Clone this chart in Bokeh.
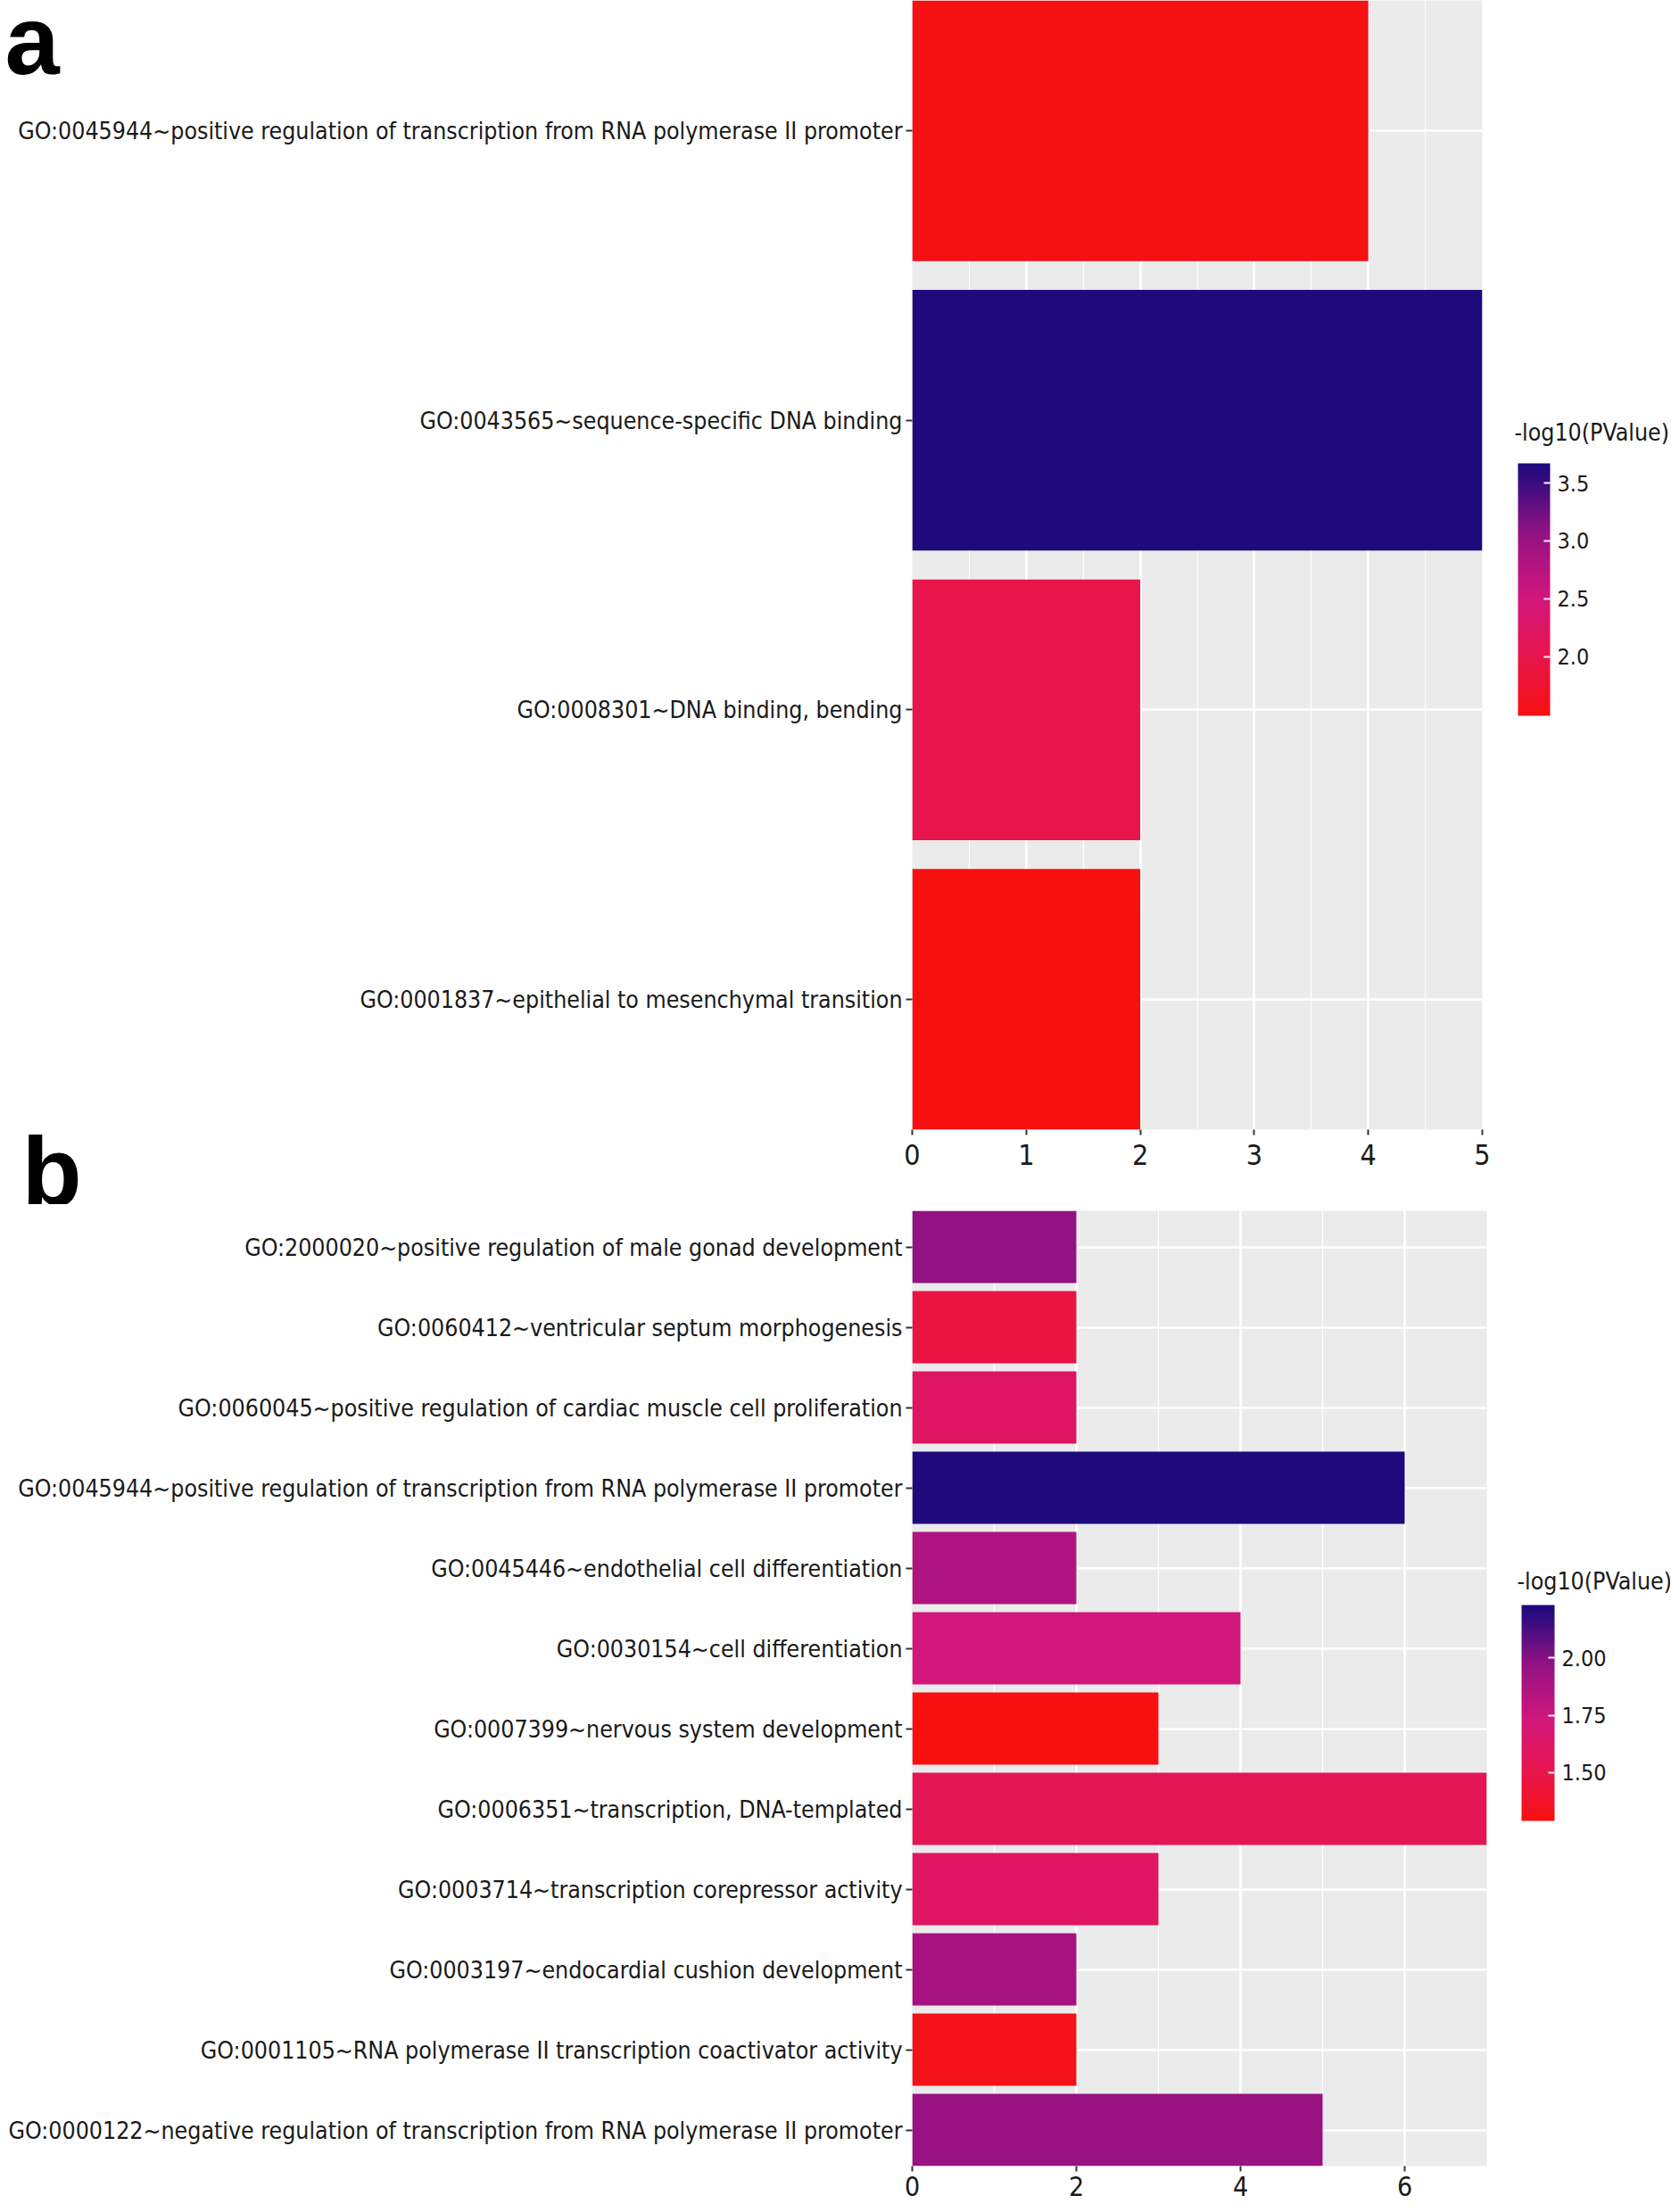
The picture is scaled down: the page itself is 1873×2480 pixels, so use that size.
import numpy as np
from bokeh.plotting import figure
from bokeh.models import (Range1d, FixedTicker, SingleIntervalTicker, LinearColorMapper,
                          ColorBar, Label, PrintfTickFormatter, ColumnDataSource)
from bokeh.layouts import column
from bokeh.embed import file_html
from bokeh.resources import INLINE

FONT = "DejaVu Sans Condensed, Liberation Sans"

# ---------------- data: panel a (top to bottom) ----------------
a_terms = [
    "GO:0045944~positive regulation of transcription from RNA polymerase II promoter",
    "GO:0043565~sequence-specific DNA binding",
    "GO:0008301~DNA binding, bending",
    "GO:0001837~epithelial to mesenchymal transition",
]
a_count = [4, 5, 2, 2]
a_logp = [1.52, 3.67, 1.99, 1.49]
a_cb_ticks = [2.0, 2.5, 3.0, 3.5]

# ---------------- data: panel b (top to bottom) ----------------
b_terms = [
    "GO:2000020~positive regulation of male gonad development",
    "GO:0060412~ventricular septum morphogenesis",
    "GO:0060045~positive regulation of cardiac muscle cell proliferation",
    "GO:0045944~positive regulation of transcription from RNA polymerase II promoter",
    "GO:0045446~endothelial cell differentiation",
    "GO:0030154~cell differentiation",
    "GO:0007399~nervous system development",
    "GO:0006351~transcription, DNA-templated",
    "GO:0003714~transcription corepressor activity",
    "GO:0003197~endocardial cushion development",
    "GO:0001105~RNA polymerase II transcription coactivator activity",
    "GO:0000122~negative regulation of transcription from RNA polymerase II promoter",
]
b_count = [2, 2, 2, 6, 2, 4, 3, 7, 3, 2, 2, 5]
b_logp = [1.97, 1.47, 1.60, 2.23, 1.86, 1.73, 1.29, 1.55, 1.60, 1.90, 1.32, 1.95]
b_cb_ticks = [1.50, 1.75, 2.00]

# colour gradient (low -> high)
grad_pos = [0.0, 0.22, 0.47, 0.72, 0.92, 1.0]
grad_col = ["#F61010", "#E8154A", "#D2167D", "#951282", "#3B0C80", "#1E0A7B"]


def make_palette(pos, cols, n=256):
    rgb = np.array([[int(c[i:i + 2], 16) for i in (1, 3, 5)] for c in cols], dtype=float)
    t = np.linspace(0, 1, n)
    out = []
    for tt in t:
        r = np.interp(tt, pos, rgb[:, 0])
        g = np.interp(tt, pos, rgb[:, 1])
        b = np.interp(tt, pos, rgb[:, 2])
        out.append("#%02x%02x%02x" % (int(round(r)), int(round(g)), int(round(b))))
    return out


PALETTE = make_palette(grad_pos, grad_col)


def panel(terms, counts, logp, xmax, xstep, cb_ticks, cb_fmt,
          frame_w, frame_h, left, right, top, bottom, cb_loc, cb_w, cb_h, title_xy,
          xfont, xstandoff):
    n = len(terms)
    ys = list(range(n - 1, -1, -1))
    src = ColumnDataSource(dict(y=ys, count=counts, logp=logp, term=terms))
    mapper = LinearColorMapper(palette=PALETTE, low=min(logp), high=max(logp))
    p = figure(frame_width=frame_w, frame_height=frame_h,
               x_range=Range1d(0, xmax), y_range=Range1d(-0.45, n - 0.55),
               output_backend="svg", toolbar_location=None,
               min_border_left=left, min_border_right=right,
               min_border_top=top, min_border_bottom=bottom)
    p.hbar(y="y", left=0, right="count", height=0.9, source=src,
           fill_color={"field": "logp", "transform": mapper}, line_color=None)

    p.background_fill_color = "#EBEBEB"
    p.border_fill_color = "white"
    p.outline_line_color = None

    xt = SingleIntervalTicker(interval=xstep, num_minor_ticks=2)
    p.xaxis.ticker = xt
    p.xgrid.ticker = xt
    p.xgrid.grid_line_color = "white"
    p.xgrid.grid_line_width = 2.5
    p.xgrid.minor_grid_line_color = "white"
    p.xgrid.minor_grid_line_width = 1.2

    yt = FixedTicker(ticks=ys)
    p.yaxis.ticker = yt
    p.ygrid.ticker = yt
    p.ygrid.grid_line_color = "white"
    p.ygrid.grid_line_width = 2.5
    p.yaxis.major_label_overrides = {y: t for y, t in zip(ys, terms)}

    for ax in (p.xaxis[0], p.yaxis[0]):
        ax.axis_line_color = None
        ax.major_tick_line_color = "#333333"
        ax.major_tick_line_width = 2
        ax.major_tick_out = 7
        ax.major_tick_in = 0
        ax.minor_tick_line_color = None
        ax.major_label_text_font = FONT
        ax.major_label_text_color = "#1A1A1A"
    p.yaxis.major_label_text_font_size = "26.5px"
    p.yaxis.major_label_standoff = 4
    p.xaxis.major_label_text_font_size = xfont
    p.xaxis.major_label_standoff = xstandoff
    p.xaxis.major_tick_out = 6

    cb = ColorBar(color_mapper=mapper, location=cb_loc, orientation="vertical",
                  width=cb_w, height=cb_h, padding=0, margin=0,
                  ticker=FixedTicker(ticks=cb_ticks),
                  formatter=PrintfTickFormatter(format=cb_fmt),
                  background_fill_alpha=0, border_line_color=None, bar_line_color=None,
                  major_tick_in=7, major_tick_out=0, major_tick_line_color="white",
                  major_tick_line_width=2, minor_tick_line_color=None,
                  label_standoff=8, major_label_text_font=FONT,
                  major_label_text_font_size="25px", major_label_text_color="#1A1A1A")
    p.add_layout(cb, "center")
    p.add_layout(Label(x=title_xy[0], y=title_xy[1], x_units="canvas", y_units="canvas",
                       text="-log10(PValue)", text_font=FONT, text_font_size="26.5px",
                       text_baseline="middle", text_align="left", text_color="#1A1A1A"),
                 "right")
    return p, mapper


def panel_tag(text, mapper, loc):
    # bold panel letter, drawn as the title of an empty (invisible) colour bar
    return ColorBar(color_mapper=mapper, location=loc, orientation="horizontal",
                    width=60, height=1, padding=0, margin=0, scale_alpha=0,
                    ticker=FixedTicker(ticks=[]), major_tick_line_color=None,
                    minor_tick_line_color=None, major_label_text_alpha=0,
                    bar_line_color=None, border_line_color=None, background_fill_alpha=0,
                    title=text, title_standoff=0, title_text_font="Liberation Sans",
                    title_text_font_style="bold", title_text_font_size="110px",
                    title_text_color="black")


p1, m1 = panel(a_terms, a_count, a_logp, 5, 1, a_cb_ticks, "%.1f",
               639, 1266, 1022, 211, 0, 84, (679, 464), 36, 283, (1697, 484), "32px", 10)
p2, m2 = panel(b_terms, b_count, b_logp, 7, 2, b_cb_ticks, "%.2f",
               644, 1071, 1022, 206, 7, 50, (683, 387), 37, 242, (1700, 422), "30px", 5)

p1.add_layout(panel_tag("a", m1, (-1017, 1160)), "center")
p1.add_layout(panel_tag("b", m1, (-998, -108)), "center")

layout = column(p1, p2, spacing=0)
open("out.html", "w").write(file_html(layout, INLINE))
